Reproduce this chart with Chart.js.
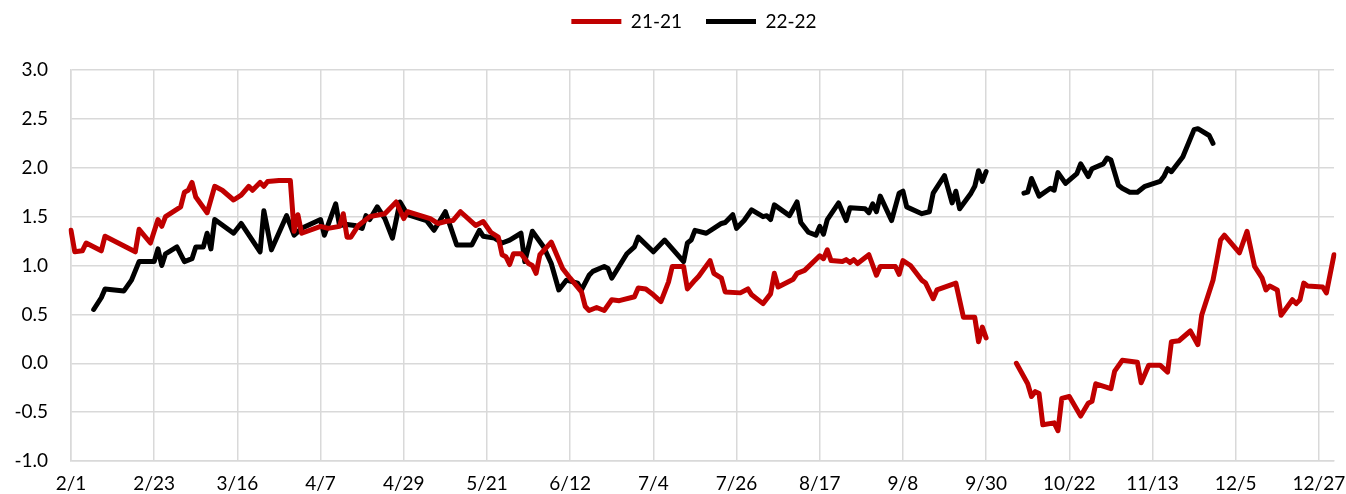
<!DOCTYPE html>
<html>
<head>
<meta charset="utf-8">
<script src="https://cdn.jsdelivr.net/npm/chart.js@4.4.1/dist/chart.umd.min.js"></script>
<style>
  body { margin: 0; background: #fff; }
  #wrap { width: 1346px; height: 494px; }
</style>
</head>
<body>
<div id="wrap"><canvas id="spreadChart"></canvas></div>
<script>
// every day from 2/1 to 12/31 (leap year) is a category
const dayLabels = [];
for (let d = new Date(2024, 1, 1); d <= new Date(2024, 11, 31); d.setDate(d.getDate() + 1)) {
  dayLabels.push((d.getMonth() + 1) + '/' + d.getDate());
}
const tickLabels = ['2/1', '2/23', '3/16', '4/7', '4/29', '5/21', '6/12', '7/4', '7/26',
  '8/17', '9/8', '9/30', '10/22', '11/13', '12/5', '12/27'];

const redDates = ['2/1','2/2','2/4','2/5','2/9','2/10','2/18','2/19','2/22','2/24','2/25','2/26',
  '3/1','3/2','3/3','3/4','3/5','3/8','3/10','3/12','3/15','3/17','3/19','3/20','3/22','3/23','3/24','3/27','3/30','3/31',
  '4/1','4/2','4/7','4/9','4/12','4/13','4/14','4/15','4/17','4/20','4/24','4/27','4/29','4/30',
  '5/6','5/8','5/10','5/12','5/14','5/18','5/20','5/22','5/24','5/25','5/26','5/27','5/28','5/30',
  '6/1','6/2','6/3','6/4','6/7','6/10','6/12','6/15','6/16','6/17','6/19','6/21','6/23','6/25','6/29','6/30',
  '7/2','7/4','7/6','7/8','7/9','7/12','7/13','7/15','7/16','7/19','7/20','7/22','7/23','7/27','7/29','7/30',
  '8/2','8/4','8/5','8/6','8/10','8/11','8/13','8/17','8/18','8/19','8/20','8/23','8/24','8/25','8/26','8/27','8/30',
  '9/1','9/2','9/6','9/7','9/8','9/10','9/13','9/14','9/16','9/17','9/22','9/24','9/27','9/28','9/29','9/30',
  '10/4','10/8','10/11','10/12','10/13','10/14','10/15','10/18','10/19','10/20','10/22','10/25','10/27','10/28','10/29',
  '11/2','11/3','11/5','11/9','11/10','11/12','11/15','11/17','11/18','11/20','11/23','11/25','11/26','11/29','11/30',
  '12/1','12/2','12/6','12/8','12/10','12/12','12/13','12/14','12/16','12/17','12/20','12/21','12/22','12/23','12/24','12/28','12/29','12/31'];
const redValues = [1.36,1.14,1.15,1.23,1.15,1.30,1.14,1.37,1.23,1.47,1.40,1.50,
  1.60,1.75,1.77,1.85,1.70,1.54,1.81,1.77,1.67,1.72,1.81,1.77,1.85,1.81,1.86,1.87,1.87,1.35,
  1.52,1.33,1.40,1.38,1.40,1.53,1.29,1.29,1.41,1.50,1.53,1.65,1.48,1.55,
  1.48,1.43,1.45,1.46,1.55,1.41,1.45,1.34,1.29,1.11,1.09,1.01,1.12,1.12,
  1.02,1.00,0.92,1.11,1.24,0.97,0.87,0.73,0.58,0.54,0.57,0.54,0.65,0.64,0.68,0.77,
  0.76,0.70,0.63,0.83,0.99,0.99,0.76,0.85,0.89,1.05,0.92,0.87,0.73,0.72,0.76,0.70,
  0.61,0.71,0.92,0.78,0.86,0.92,0.95,1.10,1.07,1.16,1.05,1.04,1.06,1.03,1.06,1.02,1.11,
  0.90,0.99,0.99,0.91,1.05,1.00,0.85,0.82,0.66,0.75,0.82,0.47,0.47,0.22,0.37,0.26,
  null,0.00,-0.21,-0.34,-0.29,-0.31,-0.63,-0.61,-0.69,-0.36,-0.34,-0.54,-0.41,-0.39,-0.21,
  -0.26,-0.08,0.03,0.01,-0.20,-0.02,-0.02,-0.09,0.22,0.23,0.33,0.19,0.49,0.85,1.05,
  1.26,1.31,1.13,1.35,0.99,0.87,0.75,0.79,0.75,0.49,0.65,0.61,0.65,0.82,0.79,0.78,0.72,1.11];

const blackDates = ['2/7','2/9','2/10','2/15','2/17','2/19','2/23','2/24','2/25','2/26','2/29',
  '3/2','3/4','3/5','3/7','3/8','3/9','3/10','3/15','3/17','3/22','3/23','3/25','3/29','3/31',
  '4/2','4/7','4/8','4/11','4/12','4/14','4/16','4/18','4/19','4/20','4/22','4/24','4/26','4/28','4/30',
  '5/5','5/7','5/10','5/13','5/17','5/19','5/20','5/23','5/25','5/27','5/30','5/31',
  '6/2','6/5','6/7','6/9','6/11','6/14','6/15','6/17','6/18','6/21','6/22','6/23','6/27','6/29','6/30',
  '7/4','7/7','7/12','7/13','7/14','7/15','7/18','7/22','7/23','7/25','7/26','7/28','7/30',
  '8/2','8/3','8/4','8/5','8/9','8/11','8/12','8/14','8/16','8/17','8/18','8/19','8/22','8/24','8/25','8/29','8/30','8/31',
  '9/1','9/2','9/5','9/7','9/8','9/9','9/13','9/15','9/16','9/19','9/21','9/22','9/23','9/26','9/27','9/28','9/29','9/30',
  '10/4','10/10','10/11','10/12','10/14','10/17','10/18','10/19','10/21','10/24','10/25','10/27','10/28','10/31',
  '11/1','11/2','11/4','11/5','11/7','11/9','11/11','11/15','11/16','11/17','11/18','11/21','11/24','11/25','11/28','11/29'];
const blackValues = [0.55,0.67,0.76,0.74,0.85,1.04,1.04,1.17,1.00,1.12,1.19,
  1.04,1.07,1.19,1.19,1.33,1.17,1.47,1.33,1.43,1.14,1.56,1.16,1.51,1.31,
  1.38,1.47,1.31,1.63,1.41,1.42,1.41,1.38,1.51,1.47,1.60,1.48,1.28,1.65,1.52,
  1.46,1.36,1.55,1.21,1.21,1.36,1.30,1.28,1.23,1.26,1.33,1.04,
  1.35,1.19,1.02,0.75,0.85,0.82,0.75,0.90,0.94,0.99,0.97,0.87,1.12,1.19,1.29,
  1.14,1.26,1.04,1.23,1.26,1.36,1.33,1.43,1.44,1.52,1.38,1.46,1.57,
  1.50,1.51,1.47,1.62,1.51,1.65,1.44,1.34,1.31,1.40,1.32,1.47,1.64,1.46,1.59,1.58,1.54,1.63,
  1.55,1.71,1.46,1.74,1.76,1.60,1.53,1.55,1.74,1.92,1.64,1.76,1.58,1.74,1.81,1.97,1.86,1.96,
  null,1.74,1.75,1.89,1.71,1.79,1.77,1.95,1.84,1.94,2.04,1.91,1.99,2.04,
  2.10,2.08,1.82,1.79,1.75,1.75,1.81,1.86,1.91,1.99,1.96,2.11,2.39,2.40,2.33,2.25];

function toPoints(dates, values) {
  return dates.map((d, i) => ({ x: d, y: values[i] }));
}

const gridColor = '#d9d9d9';
const fontFamily = 'Lato, "DejaVu Sans", sans-serif';

// legend spacing: extra room under it, then nudge it up and right
const legendGap = {
  id: 'legendGap',
  beforeInit(chart) {
    const origFit = chart.legend.fit;
    chart.legend.fit = function() {
      origFit.bind(chart.legend)();
      this.height += 17;
    };
  },
  afterLayout(chart) {
    const lg = chart.legend;
    lg.top -= 12; lg.bottom -= 12;
    lg.left += 27; lg.right += 27;
  }
};

new Chart(document.getElementById('spreadChart'), {
  type: 'line',
  data: {
    labels: dayLabels,
    datasets: [{
      label: '21-21',
      data: toPoints(redDates, redValues),
      borderColor: '#c00000',
      backgroundColor: '#c00000',
      borderWidth: 5,
      pointRadius: 0,
      borderCapStyle: 'round',
      borderJoinStyle: 'round',
      spanGaps: false
    }, {
      label: '22-22',
      data: toPoints(blackDates, blackValues),
      borderColor: '#000000',
      backgroundColor: '#000000',
      borderWidth: 5,
      pointRadius: 0,
      borderCapStyle: 'round',
      borderJoinStyle: 'round',
      spanGaps: false
    }]
  },
  plugins: [legendGap],
  options: {
    responsive: true,
    maintainAspectRatio: false,
    animation: false,
    layout: { padding: { left: 0, right: 12, top: 0, bottom: 0 } },
    plugins: {
      tooltip: { enabled: false },
      legend: {
        position: 'top',
        labels: {
          usePointStyle: true,
          pointStyle: 'line',
          pointStyleWidth: 50,
          color: '#000',
          padding: 24,
          font: { family: fontFamily, size: 19 }
        }
      }
    },
    scales: {
      x: {
        type: 'category',
        offset: false,
        afterBuildTicks: function(scale) {
          scale.ticks = scale.ticks.filter(t => tickLabels.includes(dayLabels[t.value]));
        },
        afterFit: function(scale) {
          scale.height = 33;
          scale.paddingRight = 0;
        },
        ticks: {
          autoSkip: false,
          maxRotation: 0,
          color: '#000',
          padding: 11,
          font: { family: fontFamily, size: 19 }
        },
        grid: { color: gridColor, lineWidth: 1.5, drawTicks: false },
        border: { color: gridColor, width: 1.5 }
      },
      y: {
        min: -1,
        max: 3,
        afterFit: function(scale) {
          scale.width = 71;
          scale.paddingTop = 0;
          scale.paddingBottom = 0;
        },
        ticks: {
          stepSize: 0.5,
          color: '#000',
          padding: 23,
          font: { family: fontFamily, size: 19 },
          callback: v => v.toFixed(1)
        },
        grid: { color: gridColor, lineWidth: 1.5, drawTicks: false },
        border: { color: gridColor, width: 1.5 }
      }
    }
  }
});
</script>
</body>
</html>
